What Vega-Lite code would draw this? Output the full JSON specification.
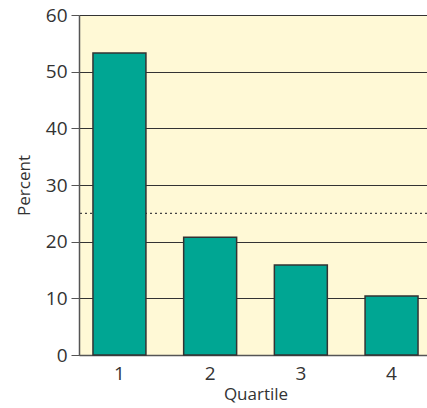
{
  "$schema": "https://vega.github.io/schema/vega-lite/v6.json",
  "width": 353,
  "height": 340,
  "autosize": {"type": "none"},
  "padding": {"left": 79, "top": 15, "right": 0, "bottom": 53},
  "background": "white",
  "config": {
    "view": {"fill": "#FFF9D6", "stroke": null},
    "font": "Open Sans",
    "axis": {
      "labelFont": "Open Sans",
      "titleFont": "Open Sans",
      "labelColor": "#333333",
      "titleColor": "#333333",
      "domainColor": "#555555",
      "domainWidth": 1.5,
      "tickColor": "#555555"
    }
  },
  "data": {
    "values": [
      {"quartile": "1", "percent": 53.3},
      {"quartile": "2", "percent": 20.8},
      {"quartile": "3", "percent": 15.9},
      {"quartile": "4", "percent": 10.4}
    ]
  },
  "layer": [
    {
      "data": {"values": [{"ref": 25}]},
      "mark": {"type": "rule", "strokeDash": [2, 3], "color": "#444444", "strokeWidth": 1.3},
      "encoding": {"y": {"field": "ref", "type": "quantitative"}}
    },
    {
      "mark": {"type": "bar", "fill": "#00A693", "stroke": "#333333", "strokeWidth": 1.5},
      "encoding": {
        "x": {
          "field": "quartile",
          "type": "ordinal",
          "scale": {"paddingInner": 0.416, "paddingOuter": 0.154},
          "axis": {
            "title": "Quartile",
            "labelAngle": 0,
            "labelFontSize": 19,
            "titleFontSize": 17,
            "titleFontWeight": "normal",
            "ticks": false,
            "domain": true,
            "labelPadding": 9,
            "titlePadding": 3
          }
        },
        "y": {
          "field": "percent",
          "type": "quantitative",
          "scale": {"domain": [0, 60], "nice": false},
          "axis": {
            "title": "Percent",
            "values": [0, 10, 20, 30, 40, 50, 60],
            "labelFontSize": 19,
            "titleFontSize": 17,
            "titleFontWeight": "normal",
            "tickSize": 8,
            "labelPadding": 4,
            "titlePadding": 12,
            "grid": true,
            "gridColor": "#333333",
            "gridOpacity": 1,
            "gridWidth": 1.2
          }
        }
      }
    }
  ]
}
